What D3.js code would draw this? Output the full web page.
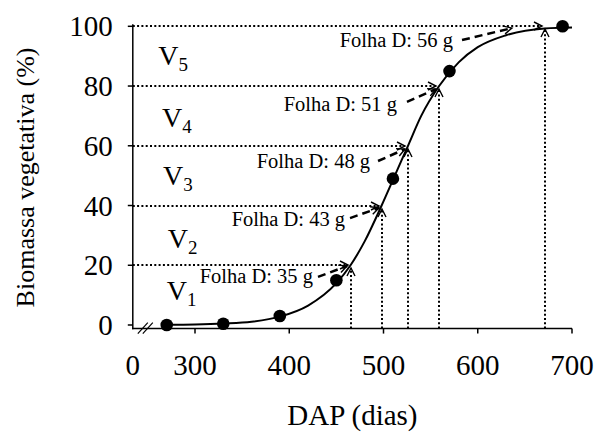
<!DOCTYPE html>
<html>
<head>
<meta charset="utf-8">
<script src="https://cdn.jsdelivr.net/npm/d3@7/dist/d3.min.js"></script>
<style>
  html, body { margin: 0; padding: 0; background: #fff; }
  svg { display: block; font-family: "Liberation Serif", "Times New Roman", serif; }
</style>
</head>
<body>
<svg id="chart" width="598" height="439"></svg>
<script>
// Observed biomass accumulation (DAP, % of final vegetative biomass)
const dap = [270, 330, 390, 450, 510, 570, 690];
const biomass = [0, 0.4, 3, 15, 49, 85, 100];

// Fitted growth curve, sampled along DAP
const curveDap = [270, 300, 330, 360, 390, 420, 450, 465, 480, 498, 512, 526, 540, 559, 580, 600, 630, 671, 700];
const curveBiomass = [0.1, 0.2, 0.5, 1.1, 2.8, 6.5, 14, 20, 28, 40, 50, 60, 70, 80, 88, 93, 97, 99.3, 99.6];

// Stage thresholds: DAP at which each biomass level is reached
const stageDap = [465, 498, 526, 559, 671];
const stageLevel = [20, 40, 60, 80, 100];

// Stage names (V + subscript) and their placement
const stageNames = ["1", "2", "3", "4", "5"];
const stageLabelDap = [270, 271, 266, 265, 261];
const stageLabelLevel = [8.4, 25.8, 46.9, 66.4, 87];

// "Folha D" leaf mass at each stage, with label and arrow anchors
const leafMass = [35, 43, 48, 51, 56];
const leafLabelDap = [425.2, 459.2, 485.7, 514.3, 573.7];
const leafLabelLevel = [14.1, 33.1, 52.6, 71.6, 93.1];
const leafArrowFrom = [[430.5, 16.1], [464.5, 35.8], [494.2, 54.9], [524.9, 74.7], [583.3, 95.4]];
const leafArrowTo = [[461.3, 19.75], [495.2, 39.2], [522.8, 58.9], [555.7, 79.0], [636.3, 99.4]];

// Axis ticks
const xTicks = [300, 400, 500, 600, 700];
const yTicks = [0, 20, 40, 60, 80, 100];
const xBreak = 234; // left end of the broken DAP axis, labelled "0"

const svg = d3.select("#chart");

const x = d3.scaleLinear().domain([300, 700]).range([195, 572]);
const y = d3.scaleLinear().domain([0, 100]).range([325, 26.3]);
const yBase = y(-1.2);
const x0 = x(xBreak);

// Open arrowhead used by guides and annotations
const defs = svg.append("defs");
defs.append("marker")
  .attr("id", "head")
  .attr("viewBox", "-10 -6 12 12")
  .attr("refX", 0).attr("refY", 0)
  .attr("markerWidth", 12).attr("markerHeight", 12)
  .attr("markerUnits", "userSpaceOnUse")
  .attr("orient", "auto")
  .append("path")
  .attr("d", "M-8,-4 L0,0 L-8,4")
  .attr("fill", "none")
  .attr("stroke", "#000")
  .attr("stroke-width", 1.4);

// Guide lines (dotted) from axes to curve, snapped to whole pixels
const guides = svg.append("g");
stageDap.forEach((d, i) => {
  const gx = Math.round(x(d)), gy = Math.round(y(stageLevel[i]));
  guides.append("line")
    .attr("x1", x0).attr("y1", gy).attr("x2", gx - 3).attr("y2", gy)
    .attr("stroke", "#000").attr("stroke-width", 2)
    .attr("stroke-dasharray", "2 2.3")
    .attr("marker-end", "url(#head)");
  guides.append("line")
    .attr("x1", gx).attr("y1", yBase).attr("x2", gx).attr("y2", gy + 3)
    .attr("stroke", "#000").attr("stroke-width", 2)
    .attr("stroke-dasharray", "2 2.3")
    .attr("marker-end", "url(#head)");
});

// Axes
const axes = svg.append("g").attr("stroke", "#000").attr("stroke-width", 1.5);
axes.append("line").attr("x1", x0).attr("y1", y(100) - 2).attr("x2", x0).attr("y2", yBase + 0.75);
axes.append("line").attr("x1", x0 - 0.75).attr("y1", yBase).attr("x2", x(700)).attr("y2", yBase);
yTicks.forEach(t => {
  axes.append("line").attr("x1", x0 - 5).attr("x2", x0).attr("y1", y(t)).attr("y2", y(t));
});
xTicks.forEach(t => {
  axes.append("line").attr("x1", x(t)).attr("x2", x(t)).attr("y1", yBase).attr("y2", yBase + 5);
});
// Axis break marks
[0, 5].forEach(o => {
  axes.append("line")
    .attr("x1", x0 + 5 + o).attr("y1", yBase + 5)
    .attr("x2", x0 + 15 + o).attr("y2", yBase - 6)
    .attr("stroke-width", 1.2);
});

// Tick labels
const tickFont = 29;
svg.append("g").selectAll("text").data(yTicks).join("text")
  .attr("x", x0 - 20).attr("y", d => y(d) + 10)
  .attr("text-anchor", "end")
  .attr("font-size", tickFont)
  .text(d => d);
svg.append("g").selectAll("text").data(xTicks).join("text")
  .attr("x", d => x(d)).attr("y", 375)
  .attr("text-anchor", "middle")
  .attr("font-size", tickFont)
  .text(d => d);
svg.append("text")
  .attr("x", x0).attr("y", 375)
  .attr("text-anchor", "middle")
  .attr("font-size", tickFont)
  .text("0");

// Axis titles
svg.append("text")
  .attr("x", (x0 + x(700)) / 2).attr("y", 425)
  .attr("text-anchor", "middle")
  .attr("font-size", 29)
  .text("DAP (dias)");
svg.append("text")
  .attr("transform", `translate(34,${(y(100) + yBase) / 2}) rotate(-90)`)
  .attr("text-anchor", "middle")
  .attr("font-size", 26)
  .text("Biomassa vegetativa (%)");

// Fitted curve
const line = d3.line().x(d => x(d[0])).y(d => y(d[1])).curve(d3.curveMonotoneX);
svg.append("path")
  .datum(curveDap.map((d, i) => [d, curveBiomass[i]]))
  .attr("d", line)
  .attr("fill", "none")
  .attr("stroke", "#000")
  .attr("stroke-width", 2);

// Observed points
svg.append("g").selectAll("circle").data(dap).join("circle")
  .attr("cx", d => x(d))
  .attr("cy", (d, i) => y(biomass[i]))
  .attr("r", 6.3)
  .attr("fill", "#000");

// Stage labels V1..V5
const stage = svg.append("g").selectAll("text").data(stageNames).join("text")
  .attr("x", (d, i) => x(stageLabelDap[i]))
  .attr("y", (d, i) => y(stageLabelLevel[i]))
  .attr("font-size", 28);
stage.append("tspan").text("V");
stage.append("tspan").attr("font-size", 19).attr("dy", 6).text(d => d);

// Leaf mass annotations with dashed arrows
const ann = svg.append("g");
leafMass.forEach((m, i) => {
  ann.append("text")
    .attr("x", x(leafLabelDap[i]))
    .attr("y", y(leafLabelLevel[i]))
    .attr("text-anchor", "end")
    .attr("font-size", 20.5)
    .text(`Folha D: ${m} g`);
  ann.append("line")
    .attr("x1", x(leafArrowFrom[i][0])).attr("y1", y(leafArrowFrom[i][1]))
    .attr("x2", x(leafArrowTo[i][0])).attr("y2", y(leafArrowTo[i][1]))
    .attr("stroke", "#000").attr("stroke-width", 2.5)
    .attr("stroke-dasharray", "8 5")
    .attr("marker-end", "url(#head)");
});
</script>
</body>
</html>
